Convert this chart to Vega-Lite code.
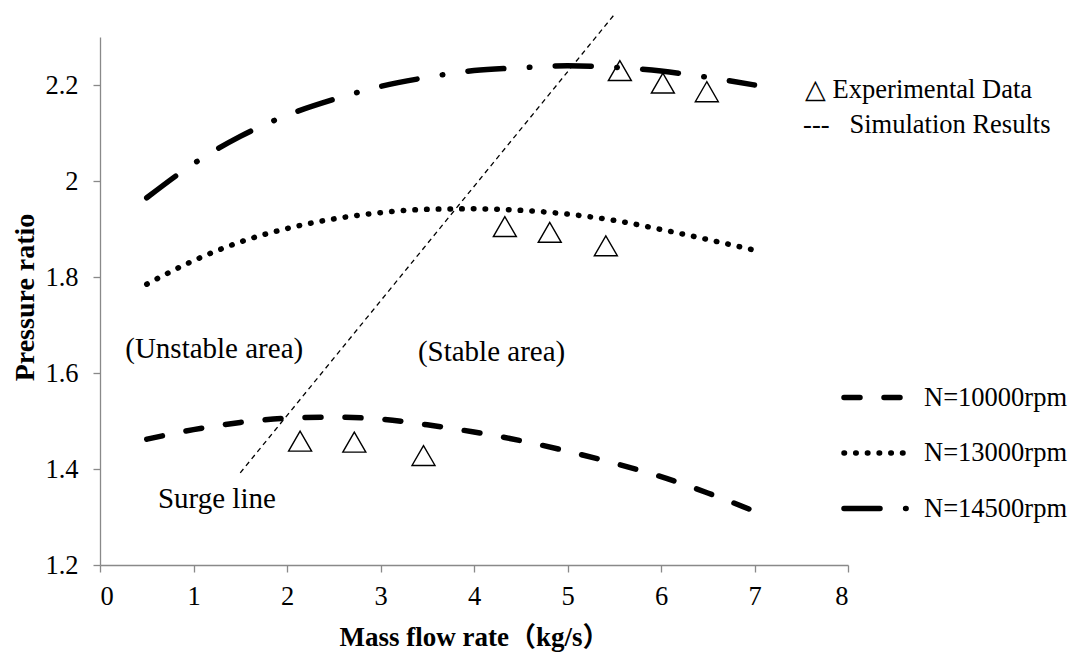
{
  "$schema": "https://vega.github.io/schema/vega-lite/v6.json",
  "width": 748,
  "height": 528,
  "autosize": "none",
  "padding": {"left": 100, "top": 37, "right": 221, "bottom": 87},
  "background": "white",
  "config": {
    "view": {"stroke": null},
    "font": "Liberation Serif",
    "axis": {
      "grid": false,
      "domainColor": "#898989",
      "domainWidth": 1.3,
      "tickColor": "#898989",
      "tickWidth": 1.3,
      "tickSize": 7,
      "labelFont": "Liberation Serif",
      "labelFontSize": 26.5,
      "labelColor": "black",
      "titleFont": "Liberation Serif, Noto Sans CJK SC",
      "titleFontWeight": "bold",
      "titleColor": "black"
    }
  },
  "datasets": {
    "curves": [
      {"flow": 0.5, "ratio": 1.462, "speed": "N=10000rpm"},
      {"flow": 1.0, "ratio": 1.482, "speed": "N=10000rpm"},
      {"flow": 1.5, "ratio": 1.497, "speed": "N=10000rpm"},
      {"flow": 2.0, "ratio": 1.506, "speed": "N=10000rpm"},
      {"flow": 2.5, "ratio": 1.508, "speed": "N=10000rpm"},
      {"flow": 3.0, "ratio": 1.504, "speed": "N=10000rpm"},
      {"flow": 3.5, "ratio": 1.492, "speed": "N=10000rpm"},
      {"flow": 4.0, "ratio": 1.477, "speed": "N=10000rpm"},
      {"flow": 4.5, "ratio": 1.459, "speed": "N=10000rpm"},
      {"flow": 5.0, "ratio": 1.437, "speed": "N=10000rpm"},
      {"flow": 5.5, "ratio": 1.412, "speed": "N=10000rpm"},
      {"flow": 6.0, "ratio": 1.384, "speed": "N=10000rpm"},
      {"flow": 6.5, "ratio": 1.350, "speed": "N=10000rpm"},
      {"flow": 7.0, "ratio": 1.312, "speed": "N=10000rpm"},
      {"flow": 0.5, "ratio": 1.785, "speed": "N=13000rpm"},
      {"flow": 1.0, "ratio": 1.834, "speed": "N=13000rpm"},
      {"flow": 1.5, "ratio": 1.873, "speed": "N=13000rpm"},
      {"flow": 2.0, "ratio": 1.901, "speed": "N=13000rpm"},
      {"flow": 2.5, "ratio": 1.921, "speed": "N=13000rpm"},
      {"flow": 3.0, "ratio": 1.934, "speed": "N=13000rpm"},
      {"flow": 3.5, "ratio": 1.941, "speed": "N=13000rpm"},
      {"flow": 4.0, "ratio": 1.942, "speed": "N=13000rpm"},
      {"flow": 4.5, "ratio": 1.939, "speed": "N=13000rpm"},
      {"flow": 5.0, "ratio": 1.931, "speed": "N=13000rpm"},
      {"flow": 5.5, "ratio": 1.918, "speed": "N=13000rpm"},
      {"flow": 6.0, "ratio": 1.899, "speed": "N=13000rpm"},
      {"flow": 6.5, "ratio": 1.878, "speed": "N=13000rpm"},
      {"flow": 7.0, "ratio": 1.856, "speed": "N=13000rpm"},
      {"flow": 0.5, "ratio": 1.965, "speed": "N=14500rpm"},
      {"flow": 1.0, "ratio": 2.036, "speed": "N=14500rpm"},
      {"flow": 1.5, "ratio": 2.093, "speed": "N=14500rpm"},
      {"flow": 2.0, "ratio": 2.137, "speed": "N=14500rpm"},
      {"flow": 2.5, "ratio": 2.170, "speed": "N=14500rpm"},
      {"flow": 3.0, "ratio": 2.197, "speed": "N=14500rpm"},
      {"flow": 3.5, "ratio": 2.216, "speed": "N=14500rpm"},
      {"flow": 4.0, "ratio": 2.230, "speed": "N=14500rpm"},
      {"flow": 4.5, "ratio": 2.236, "speed": "N=14500rpm"},
      {"flow": 5.0, "ratio": 2.240, "speed": "N=14500rpm"},
      {"flow": 5.5, "ratio": 2.237, "speed": "N=14500rpm"},
      {"flow": 6.0, "ratio": 2.229, "speed": "N=14500rpm"},
      {"flow": 6.5, "ratio": 2.216, "speed": "N=14500rpm"},
      {"flow": 7.0, "ratio": 2.200, "speed": "N=14500rpm"}
    ],
    "experiment": [
      {"flow": 2.14, "ratio": 1.458, "speed": "N=10000rpm"},
      {"flow": 2.72, "ratio": 1.456, "speed": "N=10000rpm"},
      {"flow": 3.46, "ratio": 1.428, "speed": "N=10000rpm"},
      {"flow": 4.33, "ratio": 1.905, "speed": "N=13000rpm"},
      {"flow": 4.81, "ratio": 1.893, "speed": "N=13000rpm"},
      {"flow": 5.41, "ratio": 1.865, "speed": "N=13000rpm"},
      {"flow": 5.56, "ratio": 2.230, "speed": "N=14500rpm"},
      {"flow": 6.02, "ratio": 2.204, "speed": "N=14500rpm"},
      {"flow": 6.49, "ratio": 2.186, "speed": "N=14500rpm"}
    ],
    "surge": [
      {"flow": 1.5, "ratio": 1.392},
      {"flow": 5.51, "ratio": 2.349}
    ],
    "areaNotes": [
      {"flow": 0.27, "ratio": 1.631, "note": "(Unstable area)"},
      {"flow": 3.40, "ratio": 1.626, "note": "(Stable area)"},
      {"flow": 0.62, "ratio": 1.319, "note": "Surge line"}
    ],
    "keyNotes": [
      {"flow": 7.54, "ratio": 2.172, "note": "△ Experimental Data"},
      {"flow": 7.52, "ratio": 2.101, "note": "---\u00a0\u00a0 Simulation Results"}
    ]
  },
  "encoding": {
    "x": {
      "field": "flow",
      "type": "quantitative",
      "scale": {"domain": [0, 8], "nice": false, "zero": false},
      "axis": {
        "values": [0, 1, 2, 3, 4, 5, 6, 7, 8],
        "labelFont": "Liberation Serif",
        "labelPadding": 11,
        "title": "Mass flow rate（kg/s）",
        "titleFontSize": 27,
        "titleBaseline": "alphabetic",
        "titleY": 80
      }
    },
    "y": {
      "field": "ratio",
      "type": "quantitative",
      "scale": {"domain": [1.2, 2.3], "nice": false, "zero": false},
      "axis": {
        "values": [1.2, 1.4, 1.6, 1.8, 2.0, 2.2],
        "labelFont": "Liberation Serif",
        "labelPadding": 15,
        "labelExpr": "datum.value == 2 ? '2' : format(datum.value, '.1f')",
        "title": "Pressure ratio",
        "titleFontSize": 28,
        "titleBaseline": "alphabetic",
        "titleX": -67,
        "titleY": 260
      }
    }
  },
  "layer": [
    {
      "data": {"name": "curves"},
      "mark": {"type": "line", "interpolate": "monotone", "strokeWidth": 5.5, "strokeCap": "round", "color": "black"},
      "encoding": {
        "strokeDash": {
          "field": "speed",
          "type": "nominal",
          "scale": {
            "domain": ["N=10000rpm", "N=13000rpm", "N=14500rpm"],
            "range": [[16, 24], [0.5, 11.2], [36, 25.6, 0.5, 25.4]]
          },
          "legend": {
            "title": null,
            "orient": "none",
            "legendX": 741,
            "legendY": 325,
            "symbolType": "stroke",
            "symbolSize": 4225,
            "symbolStrokeWidth": 5.5,
            "symbolStrokeColor": "black",
            "labelFont": "Liberation Serif",
            "labelFontSize": 26.5,
            "labelColor": "black",
            "labelOffset": 12,
            "rowPadding": 6.5,
            "padding": 0,
            "encode": {"symbols": {"update": {"strokeCap": {"value": "round"}}}}
          }
        }
      }
    },
    {
      "data": {"name": "surge"},
      "mark": {"type": "line", "strokeWidth": 1.3, "strokeDash": [5, 4], "color": "black"},
      "encoding": {}
    },
    {
      "data": {"name": "experiment"},
      "mark": {"type": "point", "shape": "triangle-up", "size": 529, "filled": false, "stroke": "black", "strokeWidth": 1.4, "opacity": 1}
    },
    {
      "data": {"name": "areaNotes"},
      "mark": {"type": "text", "align": "left", "baseline": "alphabetic", "font": "Liberation Serif", "fontSize": 29, "color": "black"},
      "encoding": {"text": {"field": "note"}}
    },
    {
      "data": {"name": "keyNotes"},
      "mark": {"type": "text", "align": "left", "baseline": "alphabetic", "font": "Liberation Serif", "fontSize": 26.5, "color": "black"},
      "encoding": {"text": {"field": "note"}}
    }
  ]
}
